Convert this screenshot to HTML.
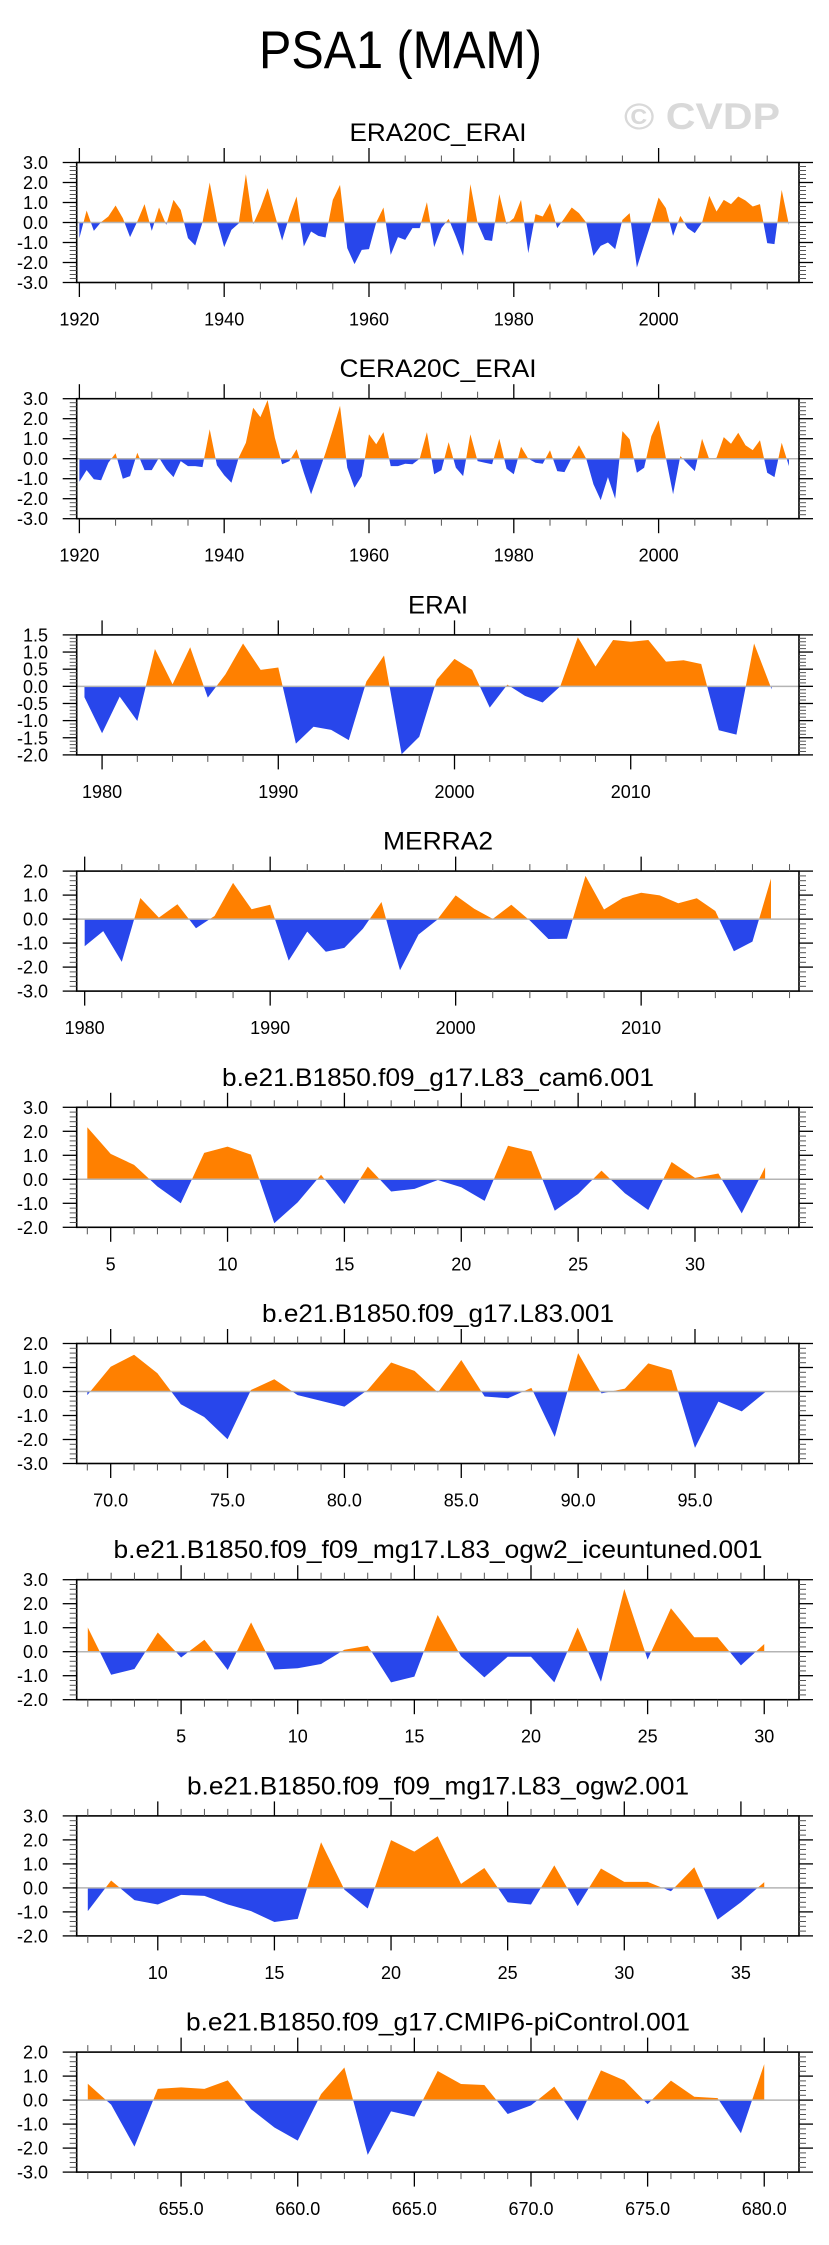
<!DOCTYPE html>
<html>
<head>
<meta charset="utf-8">
<style>
  html,body{margin:0;padding:0;background:#fff;}
  svg{display:block;font-family:"Liberation Sans",Arial,sans-serif;}
</style>
</head>
<body>
<svg id="chart" width="829" height="2245" viewBox="0 0 829 2245" xmlns="http://www.w3.org/2000/svg">
  <rect width="829" height="2245" fill="#fff"/>
  <text x="259" y="68" font-size="53" textLength="283" lengthAdjust="spacingAndGlyphs" fill="#000">PSA1 (MAM)</text>
  <text x="624" y="129" font-size="37" font-weight="bold" textLength="156" lengthAdjust="spacingAndGlyphs" fill="#d9d9d9">© CVDP</text>
</svg>
<script>
// ---------- data ----------
const era20cYears = [1920, 2018];
const era20cValues = [-0.78,0.6,-0.42,0.02,0.3,0.85,0.22,-0.73,0.05,0.92,-0.42,0.75,-0.12,1.13,0.63,-0.78,-1.15,0.0,2.0,0.1,-1.23,-0.37,-0.05,2.42,-0.08,0.72,1.72,0.38,-0.9,0.3,1.3,-1.2,-0.45,-0.67,-0.75,1.13,1.88,-1.28,-2.08,-1.37,-1.33,0.0,0.75,-1.62,-0.73,-0.87,-0.28,-0.28,1.02,-1.23,-0.28,0.18,-0.7,-1.67,1.92,-0.03,-0.87,-0.92,1.42,-0.08,0.22,1.13,-1.53,0.42,0.3,0.97,-0.28,0.22,0.75,0.47,0.0,-1.67,-1.17,-1.0,-1.33,0.13,0.47,-2.25,-1.12,0.0,1.25,0.72,-0.67,0.33,-0.28,-0.53,0.0,1.33,0.55,1.13,0.92,1.3,1.1,0.8,0.92,-1.03,-1.08,1.63,-0.12];
const cera20cValues = [-1.15,-0.57,-1.03,-1.08,-0.2,0.27,-1.0,-0.87,0.3,-0.57,-0.57,0.05,-0.53,-0.92,-0.12,-0.37,-0.37,-0.42,1.47,-0.33,-0.83,-1.2,0.05,0.8,2.55,2.08,2.93,1.05,-0.28,-0.12,0.47,-0.7,-1.78,-0.75,0.3,1.45,2.65,-0.45,-1.45,-0.87,1.22,0.72,1.33,-0.37,-0.37,-0.25,-0.28,0.0,1.33,-0.78,-0.57,0.83,-0.45,-0.87,1.22,-0.12,-0.2,-0.28,1.0,-0.5,-0.78,0.6,0.0,-0.2,-0.25,0.42,-0.62,-0.67,0.05,0.67,0.0,-1.28,-2.07,-0.92,-2.0,1.38,0.97,-0.7,-0.45,1.13,1.92,0.05,-1.78,0.13,-0.25,-0.62,1.0,-0.03,0.05,1.08,0.75,1.3,0.67,0.43,0.92,-0.7,-0.92,0.8,-0.37];
const eraiValues = [-0.32,-1.37,-0.3,-1.01,1.09,0.06,1.14,-0.33,0.35,1.25,0.48,0.55,-1.67,-1.18,-1.27,-1.57,0.14,0.9,-1.98,-1.47,0.2,0.8,0.48,-0.62,0.05,-0.28,-0.47,0.0,1.43,0.58,1.35,1.3,1.35,0.72,0.76,0.65,-1.28,-1.41,1.25,-0.09];
const merra2Values = [-1.13,-0.5,-1.78,0.88,0.06,0.62,-0.38,0.13,1.51,0.41,0.6,-1.73,-0.52,-1.36,-1.2,-0.4,0.71,-2.13,-0.64,-0.03,0.99,0.43,0.01,0.6,-0.06,-0.83,-0.82,1.8,0.4,0.88,1.1,0.99,0.66,0.87,0.34,-1.34,-0.94,1.69];
const cam6Values = [2.17,1.06,0.6,-0.3,-1.0,1.1,1.36,1.03,-1.83,-0.96,0.19,-1.03,0.53,-0.51,-0.4,-0.03,-0.33,-0.9,1.4,1.17,-1.31,-0.61,0.36,-0.58,-1.28,0.72,0.06,0.24,-1.42,0.5];
const l83Values = [-0.15,1.03,1.53,0.76,-0.53,-1.06,-1.99,0.06,0.51,-0.15,-0.39,-0.63,0.07,1.21,0.86,-0.04,1.31,-0.21,-0.28,0.15,-1.89,1.6,-0.08,0.12,1.17,0.89,-2.35,-0.42,-0.83,-0.03];
const iceValues = [1.01,-0.96,-0.72,0.8,-0.24,0.5,-0.76,1.22,-0.74,-0.69,-0.51,0.08,0.25,-1.28,-1.04,1.53,-0.19,-1.07,-0.21,-0.21,-1.28,1.01,-1.25,2.61,-0.33,1.81,0.6,0.6,-0.57,0.32];
const ogw2Values = [-0.97,0.31,-0.51,-0.69,-0.29,-0.33,-0.69,-0.97,-1.42,-1.29,1.9,-0.07,-0.86,1.99,1.51,2.15,0.17,0.83,-0.6,-0.69,0.94,-0.76,0.81,0.25,0.25,-0.14,0.86,-1.32,-0.6,0.24];
const cmip6Values = [0.68,-0.19,-1.94,0.47,0.53,0.47,0.82,-0.38,-1.14,-1.69,0.25,1.36,-2.28,-0.47,-0.69,1.21,0.67,0.63,-0.58,-0.22,0.56,-0.86,1.24,0.82,-0.17,0.81,0.14,0.08,-1.38,1.5];
const panelTitles = ["ERA20C_ERAI","CERA20C_ERAI","ERAI","MERRA2","b.e21.B1850.f09_g17.L83_cam6.001","b.e21.B1850.f09_g17.L83.001","b.e21.B1850.f09_f09_mg17.L83_ogw2_iceuntuned.001","b.e21.B1850.f09_f09_mg17.L83_ogw2.001","b.e21.B1850.f09_g17.CMIP6-piControl.001"];
const panelStarts = [1920,1920,1979,1980,4,69,1,7,651];
const xTickLabels1 = ["1920","1940","1960","1980","2000"];
const xTickLabels3 = ["1980","1990","2000","2010"];
const xTickLabels5 = ["5","10","15","20","25","30"];
const xTickLabels6 = ["70.0","75.0","80.0","85.0","90.0","95.0"];
const xTickLabels7 = ["5","10","15","20","25","30"];
const xTickLabels8 = ["10","15","20","25","30","35"];
const xTickLabels9 = ["655.0","660.0","665.0","670.0","675.0","680.0"];

// ---------- layout config ----------
const NS = "http://www.w3.org/2000/svg";
const svg = document.getElementById("chart");
const PL = 76.7, PR = 799, PH = 120;
const panels = [
  {vals: era20cValues, xr:[1919.63,2019.39], yr:[-3,3], ymaj:1, ymin:0.2, ydec:1, xlab:xTickLabels1, xmajStep:20, xminStep:5, tw:177},
  {vals: cera20cValues, xr:[1919.63,2019.39], yr:[-3,3], ymaj:1, ymin:0.2, ydec:1, xlab:xTickLabels1, xmajStep:20, xminStep:5, tw:197},
  {vals: eraiValues, xr:[1978.56,2019.55], yr:[-2,1.5], ymaj:0.5, ymin:0.1, ydec:1, xlab:xTickLabels3, xmajStep:10, xminStep:2, tw:60},
  {vals: merra2Values, xr:[1979.57,2018.51], yr:[-3,2], ymaj:1, ymin:0.2, ydec:1, xlab:xTickLabels3, xmajStep:10, xminStep:2, tw:110},
  {vals: cam6Values, xr:[3.546,34.45], yr:[-2,3], ymaj:1, ymin:0.2, ydec:1, xlab:xTickLabels5, xmajStep:5, xminStep:1, tw:432},
  {vals: l83Values, xr:[68.546,99.45], yr:[-3,2], ymaj:1, ymin:0.2, ydec:1, xlab:xTickLabels6, xmajStep:5, xminStep:1, tw:352},
  {vals: iceValues, xr:[0.524,31.49], yr:[-2,3], ymaj:1, ymin:0.2, ydec:1, xlab:xTickLabels7, xmajStep:5, xminStep:1, tw:649},
  {vals: ogw2Values, xr:[6.524,37.49], yr:[-2,3], ymaj:1, ymin:0.2, ydec:1, xlab:xTickLabels8, xmajStep:5, xminStep:1, tw:502},
  {vals: cmip6Values, xr:[650.524,681.49], yr:[-3,2], ymaj:1, ymin:0.2, ydec:1, xlab:xTickLabels9, xmajStep:5, xminStep:1, tw:504}
];

function mk(tag, attrs, parent){
  const e = document.createElementNS(NS, tag);
  for (const k in attrs) e.setAttribute(k, attrs[k]);
  (parent||svg).appendChild(e);
  return e;
}

panels.forEach((p, i) => {
  const top = 162.5 + i*236.2, bot = top + PH;
  const xs = t => PL + (t - p.xr[0]) / (p.xr[1] - p.xr[0]) * (PR - PL);
  const ys = v => bot - (v - p.yr[0]) / (p.yr[1] - p.yr[0]) * PH;
  const g = mk("g", {});
  
  

  const title = mk("text", {x:438, y:top-21.5, "font-size":25, "text-anchor":"middle", textLength:p.tw, lengthAdjust:"spacingAndGlyphs", fill:"#000"}, g);
  title.textContent = panelTitles[i];
  
  

  // clip paths
  const defs = mk("defs", {}, g);
  const y0 = ys(0);
  const cpA = mk("clipPath", {id:"above"+i}, defs);
  mk("rect", {x:PL, y:top, width:PR-PL, height:y0-top}, cpA);
  const cpB = mk("clipPath", {id:"below"+i}, defs);
  mk("rect", {x:PL, y:y0, width:PR-PL, height:bot-y0}, cpB);

  const start = panelStarts[i];
  let d = "M" + xs(start).toFixed(2) + "," + y0.toFixed(2);
  p.vals.forEach((v, k) => { d += " L" + xs(start+k).toFixed(2) + "," + ys(v).toFixed(2); });
  d += " L" + xs(start + p.vals.length - 1).toFixed(2) + "," + y0.toFixed(2) + " Z";
  const pos = mk("path", {d:d, fill:"#ff8000", "clip-path":"url(#above"+i+")"}, g);
  
  
  const neg = mk("path", {d:d, fill:"#2846eb", "clip-path":"url(#below"+i+")"}, g);
  
  

  const zl = mk("line", {x1:PL, x2:PR, y1:y0, y2:y0, stroke:"#b4b4b4", "stroke-width":1.5}, g);
  
  

  const frame = mk("rect", {x:PL, y:top, width:PR-PL, height:PH, fill:"none", stroke:"#000", "stroke-width":1.6}, g);
  
  

  // y ticks
  const nMin = Math.round((p.yr[1]-p.yr[0])/p.ymin);
  for (let k=0; k<=nMin; k++){
    const v = p.yr[0] + k*p.ymin;
    const r = v / p.ymaj;
    const isMaj = Math.abs(r - Math.round(r)) < 1e-6;
    const L = isMaj ? 14 : 7;
    const y = ys(v);
    mk("line", {x1:PL-L, x2:PL, y1:y, y2:y, stroke:isMaj?"#000":"#555", "stroke-width":isMaj?1.3:1}, g);
    mk("line", {x1:PR, x2:PR+L, y1:y, y2:y, stroke:isMaj?"#000":"#555", "stroke-width":isMaj?1.3:1}, g);
    if (isMaj){
      const t = mk("text", {x:48, y:y+6.5, "font-size":18, "text-anchor":"end", fill:"#000"}, g);
      t.textContent = v.toFixed(p.ydec);
      
      
    }
  }
  // x ticks
  const firstT = Math.ceil(p.xr[0]/p.xminStep)*p.xminStep;
  for (let t=firstT; t<=p.xr[1]; t+=p.xminStep){
    const isMaj = Math.abs(t/p.xmajStep - Math.round(t/p.xmajStep)) < 1e-6;
    const L = isMaj ? 14.5 : 7;
    const x = xs(t);
    mk("line", {x1:x, x2:x, y1:bot, y2:bot+L, stroke:isMaj?"#000":"#555", "stroke-width":isMaj?1.3:1}, g);
    mk("line", {x1:x, x2:x, y1:top-L, y2:top, stroke:isMaj?"#000":"#555", "stroke-width":isMaj?1.3:1}, g);
  }
  p.xlab.forEach(lab => {
    const t = mk("text", {x:xs(parseFloat(lab)), y:bot+43, "font-size":18, "text-anchor":"middle", fill:"#000"}, g);
    t.textContent = lab;
    
    
  });
});
</script>
</body>
</html>
